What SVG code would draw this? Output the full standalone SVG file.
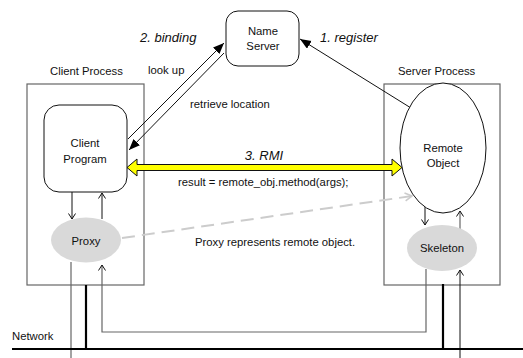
<svg xmlns="http://www.w3.org/2000/svg" width="523" height="358" viewBox="0 0 523 358">
<defs>
<style>
text{font-family:"Liberation Sans",Arial,sans-serif;font-size:11.3px;fill:#111}
.it{font-style:italic;font-size:13px}
.mid{text-anchor:middle}
.box{fill:none;stroke:#666;stroke-width:1.2}
.node{fill:#fff;stroke:#111;stroke-width:1}
.gray{fill:#d9d9d9;stroke:none}
.ln{fill:none;stroke:#111;stroke-width:1}
.gl{fill:none;stroke:#666;stroke-width:1.2}
.thick{fill:none;stroke:#000;stroke-width:2.2}
</style>
<marker id="fa" markerUnits="userSpaceOnUse" markerWidth="12" markerHeight="10" refX="11" refY="4.5" orient="auto"><path d="M0,0 L11,4.5 L0,9 z" fill="#000"/></marker>
<marker id="oa" markerUnits="userSpaceOnUse" markerWidth="8" markerHeight="10" refX="6" refY="4" orient="auto"><path d="M0.5,0.5 L6,4 L0.5,7.5" fill="none" stroke="#111" stroke-width="1"/></marker>
<marker id="ga" markerUnits="userSpaceOnUse" markerWidth="10" markerHeight="12" refX="8" refY="5" orient="auto"><path d="M1,1 L8,5 L1,9" fill="none" stroke="#ccc" stroke-width="1.6"/></marker>
</defs>
<rect width="523" height="358" fill="#fff"/>

<g id="client-process">
<rect class="box" x="27" y="84" width="117" height="201"/>
<text x="50" y="75">Client Process</text>
</g>
<g id="server-process">
<rect class="box" x="384" y="84" width="116" height="201"/>
<text x="398" y="75">Server Process</text>
</g>

<g id="connectors">
<line x1="128" y1="139" x2="224" y2="43" class="ln" marker-end="url(#fa)"/>
<line x1="224" y1="53" x2="129" y2="150" class="ln" marker-end="url(#fa)"/>
<line x1="411" y1="108" x2="300" y2="39" class="ln" marker-end="url(#fa)"/>
<polygon points="127,167.5 137,159 137,164.5 392,164.5 392,159 402,167.5 392,176 392,170.5 137,170.5 137,176" fill="#ffff00" stroke="#111" stroke-width="1"/>
<line x1="122" y1="238" x2="412" y2="196" stroke="#ccc" stroke-width="2" stroke-dasharray="13,7" marker-end="url(#ga)"/>
<line x1="72" y1="192" x2="72" y2="219" class="ln" marker-end="url(#oa)"/>
<line x1="102" y1="219" x2="102" y2="193" class="ln" marker-end="url(#oa)"/>
<line x1="425" y1="205" x2="425" y2="225" class="ln" marker-end="url(#oa)"/>
<line x1="460" y1="229" x2="460" y2="211" class="gl" marker-end="url(#oa)"/>
<line x1="71" y1="262" x2="71" y2="358" class="gl"/>
<path d="M426,269 V332 H102 V265" class="gl" marker-end="url(#oa)"/>
<line x1="460" y1="358" x2="460" y2="270" class="ln" marker-end="url(#oa)"/>
<line x1="86" y1="285" x2="86" y2="349" class="thick"/>
<line x1="443" y1="284" x2="443" y2="349" class="thick"/>
</g>

<g id="name-server">
<rect class="node" x="226" y="11" width="73" height="55" rx="12"/>
<text class="mid" x="263" y="35">Name</text>
<text class="mid" x="263" y="50">Server</text>
</g>
<g id="client-program">
<rect class="node" x="44" y="105" width="83" height="87" rx="15"/>
<text class="mid" x="85" y="147">Client</text>
<text class="mid" x="85" y="163">Program</text>
</g>
<g id="remote-object">
<ellipse class="node" cx="443" cy="148" rx="43" ry="65"/>
<text class="mid" x="443" y="152">Remote</text>
<text class="mid" x="443" y="167">Object</text>
</g>
<g id="proxy">
<ellipse class="gray" cx="86" cy="240" rx="35" ry="22.5"/>
<text class="mid" x="86" y="245">Proxy</text>
</g>
<g id="skeleton">
<ellipse class="gray" cx="442" cy="248" rx="35" ry="23"/>
<text class="mid" x="442" y="252">Skeleton</text>
</g>
<g id="network">
<line x1="12" y1="349" x2="523" y2="349" class="thick"/>
<text x="12" y="340">Network</text>
</g>

<g id="labels">
<text class="it" x="140" y="42">2. binding</text>
<text class="it" x="320" y="42">1. register</text>
<text x="148" y="74">look up</text>
<text x="190" y="108">retrieve location</text>
<text class="it mid" x="264" y="160">3. RMI</text>
<text x="178" y="186">result = remote_obj.method(args);</text>
<text x="195" y="246">Proxy represents remote object.</text>
</g>
</svg>
